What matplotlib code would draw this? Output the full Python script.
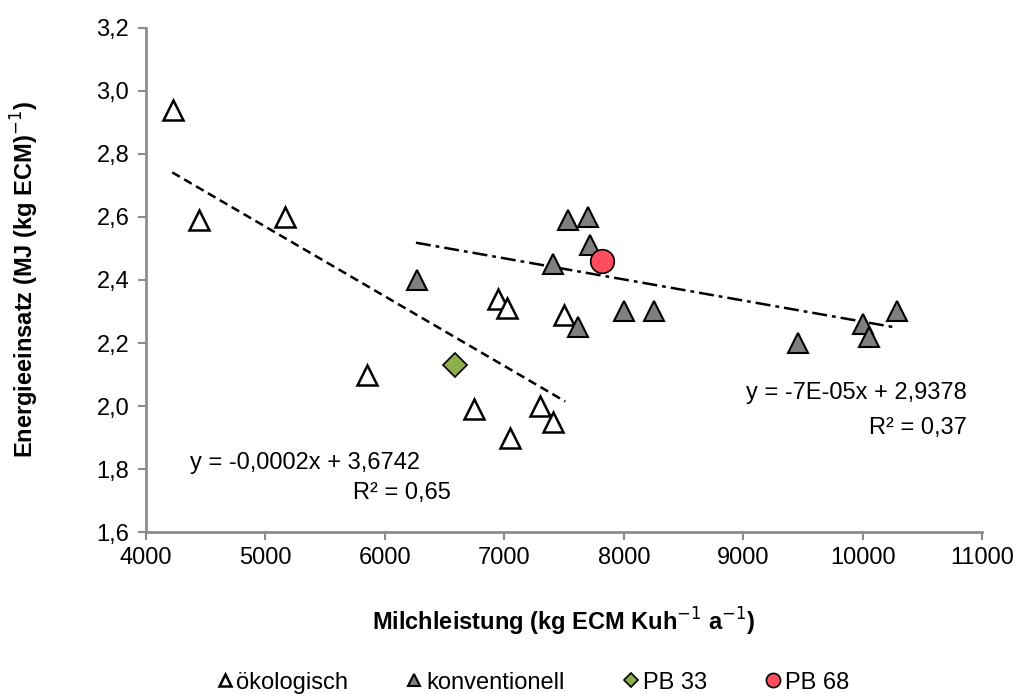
import matplotlib as mpl
import matplotlib.pyplot as plt
import numpy as np

mpl.rcParams['font.family'] = ['Liberation Sans', 'DejaVu Sans']
mpl.rcParams.update({'font.size': 17})

# ökologisch (open triangles)
oeko_x = [4230, 4440, 5160, 5850, 6950, 7020, 7500, 6750, 7300, 7410, 7050]
oeko_y = [2.94, 2.59, 2.60, 2.10, 2.34, 2.31, 2.29, 1.99, 2.00, 1.95, 1.90]
# konventionell (grey triangles)
konv_x = [6270, 7410, 7530, 7700, 7720, 7620, 8000, 8250, 9460, 10000, 10050, 10290]
konv_y = [2.40, 2.45, 2.59, 2.60, 2.51, 2.25, 2.30, 2.30, 2.20, 2.26, 2.22, 2.30]
pb33_x, pb33_y = [6590], [2.13]
pb68_x, pb68_y = [7820], [2.46]

# trend lines as shown in the chart (slope, intercept, x range)
oeko_fit = (-0.000221, 3.6742, 4220, 7510)
konv_fit = (-0.000067, 2.9378, 6260, 10260)

xticks = list(range(4000, 11001, 1000))
yticks = [1.6, 1.8, 2.0, 2.2, 2.4, 2.6, 2.8, 3.0, 3.2]

fig = plt.figure(figsize=(10.23, 6.94), dpi=100)
ax = fig.add_axes([0.1427, 0.2334, 0.8173, 0.7263])

for fit, ls in [(oeko_fit, (0, (3.5, 2))), (konv_fit, (0, (6, 2, 1.5, 2)))]:
    xs = np.array([fit[2], fit[3]])
    ax.plot(xs, fit[0] * xs + fit[1], color='black', linewidth=1.8, linestyle=ls, zorder=2)

ax.plot(oeko_x, oeko_y, linestyle='none', marker='^', markersize=15, markerfacecolor='white',
        markeredgecolor='black', markeredgewidth=1.8, label='ökologisch', zorder=3)
ax.plot(konv_x, konv_y, linestyle='none', marker='^', markersize=15, markerfacecolor='#7f7f7f',
        markeredgecolor='black', markeredgewidth=1.5, label='konventionell', zorder=3)
ax.plot(pb33_x, pb33_y, linestyle='none', marker='D', markersize=12, markerfacecolor='#8db04a',
        markeredgecolor='black', markeredgewidth=1.2, label='PB 33', zorder=4)
ax.plot(pb68_x, pb68_y, linestyle='none', marker='o', markersize=17, markerfacecolor='#ff4d5e',
        markeredgecolor='black', markeredgewidth=1.2, label='PB 68', zorder=4)

ax.annotate('y = -0,0002x + 3,6742', xy=(4370, 1.82), fontsize=17, va='center', ha='left')
ax.annotate('R² = 0,65', xy=(6550, 1.725), fontsize=17, va='center', ha='right')
ax.annotate('y = -7E-05x + 2,9378', xy=(10870, 2.04), fontsize=17, va='center', ha='right')
ax.annotate('R² = 0,37', xy=(10870, 1.93), fontsize=17, va='center', ha='right')

ax.set_xlim(4000, 11000)
ax.set_ylim(1.6, 3.2)
ax.set_xticks(xticks)
ax.set_xticklabels([str(v) for v in xticks])
ax.set_yticks(yticks)
ax.set_yticklabels([('%.1f' % v).replace('.', ',') for v in yticks])

for s in ['top', 'right']:
    ax.spines[s].set_visible(False)
for s in ['left', 'bottom']:
    ax.spines[s].set_color('#8c8c8c')
    ax.spines[s].set_linewidth(2)
ax.tick_params(axis='both', colors='#8c8c8c', width=1.5, length=6, labelcolor='black', direction='out')
ax.tick_params(axis='x', pad=5)
ax.tick_params(axis='y', pad=6)

ax.set_xlabel('Milchleistung (kg ECM Kuh$^{-1}$ a$^{-1}$)', fontsize=17, fontweight='bold', labelpad=26)
ax.set_ylabel('Energieeinsatz (MJ (kg ECM)$^{-1}$)', fontsize=17, fontweight='bold', labelpad=40)

handles, labels = ax.get_legend_handles_labels()
leg = fig.legend(handles, labels, loc='lower center', bbox_to_anchor=(0.52, -0.03), ncol=4,
                 frameon=False, fontsize=17, markerscale=0.6, handlelength=0.8,
                 handletextpad=0.1, columnspacing=2.4)

fig.savefig('out.png', dpi=100)
